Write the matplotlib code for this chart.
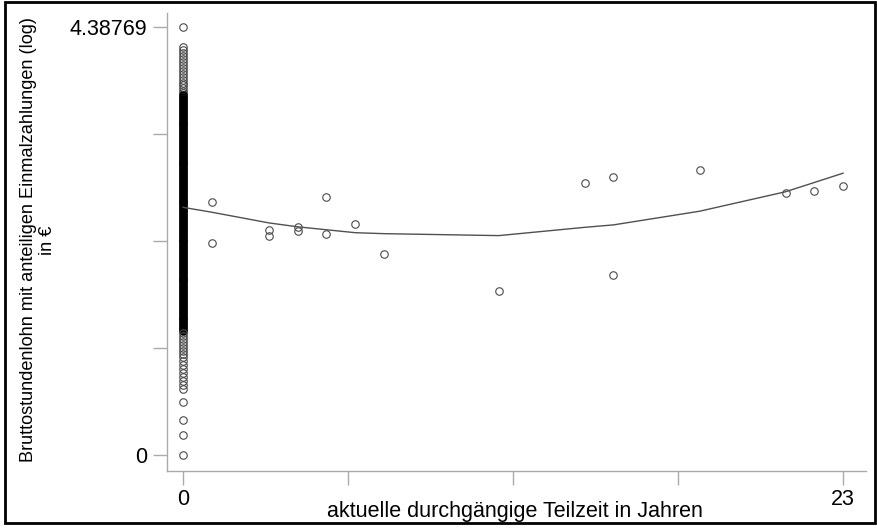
import matplotlib
matplotlib.use("Agg")
import matplotlib.pyplot as plt
from matplotlib.patches import Rectangle

plt.rcParams['font.family'] = ['Liberation Sans', 'DejaVu Sans']

# ---- data ----
# observations with 0 years of part-time (log hourly wage)
zero_top = [4.38769, 4.18, 4.15, 4.12, 4.09, 4.06, 4.03, 4.00, 3.97, 3.94,
            3.91, 3.88, 3.85, 3.82, 3.79, 3.76, 3.73, 3.71]
zero_dense = [3.69, 3.67, 3.65, 3.63, 3.61, 3.59, 3.57, 3.55, 3.53, 3.51,
              3.49, 3.47, 3.45, 3.43, 3.41, 3.39, 3.37, 3.35, 3.33, 3.31,
              3.29, 3.27, 3.25, 3.23, 3.21, 3.19, 3.17, 3.15, 3.13, 3.11,
              3.09, 3.07, 3.05, 3.03, 3.01, 2.99, 2.97, 2.95, 2.93, 2.91,
              2.89, 2.87, 2.85, 2.83, 2.81, 2.79, 2.77, 2.75, 2.73, 2.71,
              2.69, 2.67, 2.65, 2.63, 2.61, 2.59, 2.57, 2.55, 2.53, 2.51,
              2.49, 2.47, 2.45, 2.43, 2.41, 2.39, 2.37, 2.35, 2.33, 2.31,
              2.29, 2.27, 2.25, 2.23, 2.21, 2.19, 2.17, 2.15, 2.13, 2.11,
              2.09, 2.07, 2.05, 2.03, 2.01, 1.99, 1.97, 1.95, 1.93, 1.91,
              1.89, 1.87, 1.85, 1.83, 1.81, 1.79, 1.77, 1.75, 1.73, 1.71,
              1.69, 1.67, 1.65, 1.63, 1.61, 1.59, 1.57, 1.55, 1.53, 1.51,
              1.49, 1.47, 1.45, 1.43, 1.41, 1.39, 1.37, 1.35, 1.33, 1.31,
              1.29, 1.27]
zero_low = [1.25, 1.22, 1.19, 1.16, 1.13, 1.10, 1.07, 1.04, 1.00, 0.96,
            0.92, 0.88, 0.84, 0.80, 0.76, 0.72, 0.68, 0.54, 0.36, 0.205, 0.0]

# observations with > 0 years of part-time
years = [1, 1, 3, 3, 4, 4, 5, 5, 6, 7, 11, 14, 15, 15, 18, 21, 22, 23]
wage = [2.59, 2.17, 2.31, 2.25, 2.34, 2.30, 2.65, 2.27, 2.37, 2.06, 1.68,
        2.79, 2.85, 1.85, 2.92, 2.69, 2.71, 2.76]

# smoothed fit
fit_x = [0, 1, 3, 4, 5, 6, 7, 11, 14, 15, 18, 21, 22, 23]
fit_y = [2.54, 2.49, 2.38, 2.34, 2.31, 2.28, 2.27, 2.25, 2.335, 2.36, 2.50,
         2.70, 2.795, 2.89]

ymax = 4.38769
yticks = [0, ymax / 4, ymax / 2, 3 * ymax / 4, ymax]
ytick_labels = ['0', '', '', '', '4.38769']
xticks = [0, 5.75, 11.5, 17.25, 23]
xtick_labels = ['0', '', '', '', '23']

# ---- figure ----
W, H = 878, 531
fig = plt.figure(figsize=(W / 100, H / 100), dpi=100)
ax = fig.add_axes([167 / W, 1 - 471 / H, (866 - 167) / W, (471 - 13) / H])

circ = dict(marker='o', linestyle='none', markersize=5.4,
            markerfacecolor='none', markeredgecolor='#4a4a4a',
            markeredgewidth=0.8)
dense = dict(circ, markersize=4.6, markeredgecolor='black',
             markeredgewidth=1.6)
ax.plot([0] * len(zero_top), zero_top, **circ)
ax.plot([0] * len(zero_dense), zero_dense, **dense)
ax.plot([0] * len(zero_low), zero_low, **circ)
ax.plot(years, wage, **circ)
ax.plot(fit_x, fit_y, color='#505050', linewidth=1.0)

ax.set_xlim(-0.558, 23.80)
ax.set_ylim(-0.164, 4.533)

ax.set_xticks(xticks)
ax.set_xticklabels(xtick_labels, fontsize=15.5)
ax.set_yticks(yticks)
ax.set_yticklabels(ytick_labels, fontsize=15.5)
ax.tick_params(axis='both', direction='out', length=10, width=1,
               color='#aaaaaa', labelcolor='black')
ax.tick_params(axis='y', pad=4)
ax.tick_params(axis='x', pad=3)

for s in ['top', 'right']:
    ax.spines[s].set_visible(False)
for s in ['left', 'bottom']:
    ax.spines[s].set_color('#aaaaaa')
    ax.spines[s].set_linewidth(1)

fig.text(515 / W, 1 - 511 / H, 'aktuelle durchgängige Teilzeit in Jahren',
         ha='center', va='center', fontsize=15.5)
fig.text(38 / W, 1 - 240 / H,
         'Bruttostundenlohn mit anteiligen Einmalzahlungen (log)\nin €',
         ha='center', va='center', rotation=90, fontsize=13.1,
         multialignment='center', linespacing=1.15)

fig.patches.append(Rectangle((5 / W, 1 - 523 / H), 870 / W, 521 / H,
                             transform=fig.transFigure, fill=False,
                             edgecolor='black', linewidth=2))

fig.savefig('out.png', dpi=100)
